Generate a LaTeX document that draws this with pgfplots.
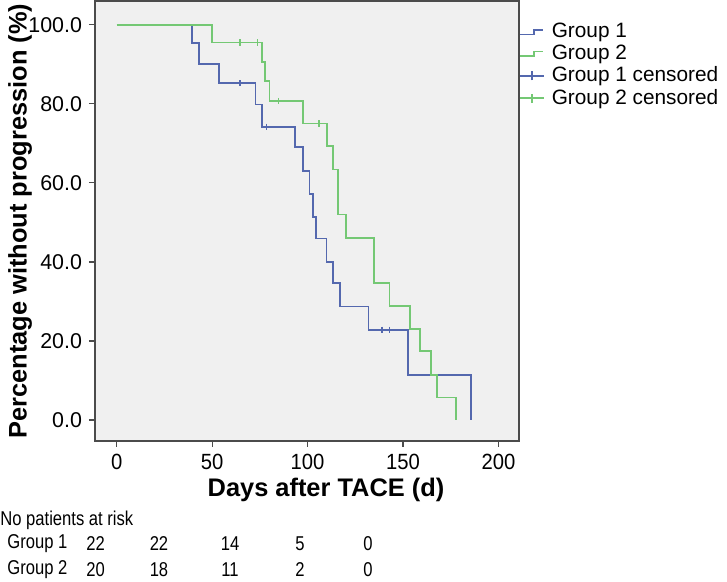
\documentclass[border=0pt]{standalone}
\usepackage{pgfplots}
\pgfplotsset{compat=1.18}
\usepackage{fontspec}
\setmainfont{Liberation Sans}
\newfontfamily\narrow[FakeStretch=0.83]{Liberation Sans}
\newfontfamily\ticknarrow[FakeStretch=0.92]{Liberation Sans}
\definecolor{kmblue}{RGB}{84,104,174}
\definecolor{kmgreen}{RGB}{116,200,116}
\definecolor{panel}{RGB}{240,240,240}
\definecolor{frame}{RGB}{75,75,75}

\pgfplotstableread{
x y
0 100
39.6 95.3
43 90.1
53.6 85.2
72.7 79.8
76.3 74.2
93.5 69.0
97.8 62.9
101 57.2
103 51.4
104.3 45.9
109.9 40.0
113.5 34.6
117 28.7
131.9 22.8
152.5 11.4
185.7 0
}\groupone
\pgfplotstableread{
x y
0 100
49.8 95.5
76.3 90.6
77.7 85.7
80 80.7
97.5 75.0
110 69.3
113.5 63.4
116 52.0
120 46.1
134.9 34.7
142.9 28.9
153.7 23.0
159 17.4
164.7 11.4
167.7 5.7
177.8 0
}\grouptwo

\begin{document}
\begin{tikzpicture}
\begin{axis}[name=a,scale only axis,width=212pt,height=220pt,
  xmin=-11.4,xmax=210.8,ymin=-5.3,ymax=106,
  axis background/.style={fill=panel},
  axis line style={frame,line width=0.75pt},
  tick style={frame,line width=0.6pt},
  tick align=outside,major tick length=3pt,
  xtick pos=bottom,ytick pos=left,
  xtick={0,50,100,150,200},xticklabels={0,50,100,150,200},
  ytick={0,20,40,60,80,100},yticklabels={0.0,20.0,40.0,60.0,80.0,100.0},
  xticklabel style={font=\ticknarrow\fontsize{11}{12}\selectfont},
  yticklabel style={font=\fontsize{10.7}{12}\selectfont},
  xlabel={Days after TACE (d)},
  ylabel={Percentage without progression (\%)},
  label style={font=\bfseries\fontsize{12.7}{14}\selectfont},
  xlabel style={at={(axis description cs:0,0)},anchor=center,xshift=115.5pt,yshift=-24.5pt},
  ylabel style={at={(axis description cs:0,0.5)},anchor=center,yshift=37.5pt},
  legend style={draw=none,fill=none,at={(axis description cs:1,1)},anchor=north west,
    yshift=-10pt,xshift=0pt,font=\fontsize{10.4}{12}\selectfont,row sep=0.1pt,
    inner sep=0pt,nodes={inner sep=1pt},
    /tikz/every odd column/.append style={column sep=2.5pt}},
  legend cell align=left,
  clip=false]
\addplot[kmblue,line width=0.9pt,const plot,
  legend image code/.code={\draw[kmblue,line width=0.7pt] (0pt,-1.1pt)--(7pt,-1.1pt)--(7pt,1.1pt)--(11.5pt,1.1pt);}]
  table {\groupone};
\addlegendentry{Group 1}
\addplot[kmgreen,line width=0.9pt,const plot,
  legend image code/.code={\draw[kmgreen,line width=0.7pt] (0pt,-1.1pt)--(7pt,-1.1pt)--(7pt,1.1pt)--(11.5pt,1.1pt);}]
  table {\grouptwo};
\addlegendentry{Group 2}
\addplot[kmblue,only marks,mark=|,mark size=1.6pt,mark options={line width=0.7pt},
  legend image code/.code={\draw[kmblue,line width=0.7pt] (0pt,0pt)--(12pt,0pt) (6pt,-2.2pt)--(6pt,2.2pt);}]
  coordinates {(64.6,85.2) (78.6,74.2) (138.9,22.8) (142.9,22.8)};
\addlegendentry{Group 1 censored}
\addplot[kmgreen,only marks,mark=|,mark size=1.6pt,mark options={line width=0.7pt},
  legend image code/.code={\draw[kmgreen,line width=0.7pt] (0pt,0pt)--(12pt,0pt) (6pt,-2.2pt)--(6pt,2.2pt);}]
  coordinates {(64.6,95.5) (73.7,95.5) (84.7,80.7) (106,75.0)};
\addlegendentry{Group 2 censored}
\end{axis}
\begin{scope}[shift={(a.south west)},every node/.style={font=\narrow\fontsize{10}{11}\selectfont,inner sep=0pt}]
\node[anchor=west] at (-47.5pt,-39.5pt) {No patients at risk};
\node[anchor=west] at (-44pt,-51.5pt) {Group 1};
\node[anchor=west] at (-44pt,-64.5pt) {Group 2};
\foreach \xx/\aa/\bb in {0.35/22/20,32/22/18,67.5/14/11,102.5/5/2,136.5/0/0}{
  \node at (\xx pt,-51.5pt) {\aa};
  \node at (\xx pt,-64.5pt) {\bb};
}
\end{scope}
\pgfresetboundingbox
\path ([shift={(-47.5pt,-70.5pt)}]a.south west) rectangle ([shift={(104pt,0.5pt)}]a.north east);
\end{tikzpicture}
\end{document}
